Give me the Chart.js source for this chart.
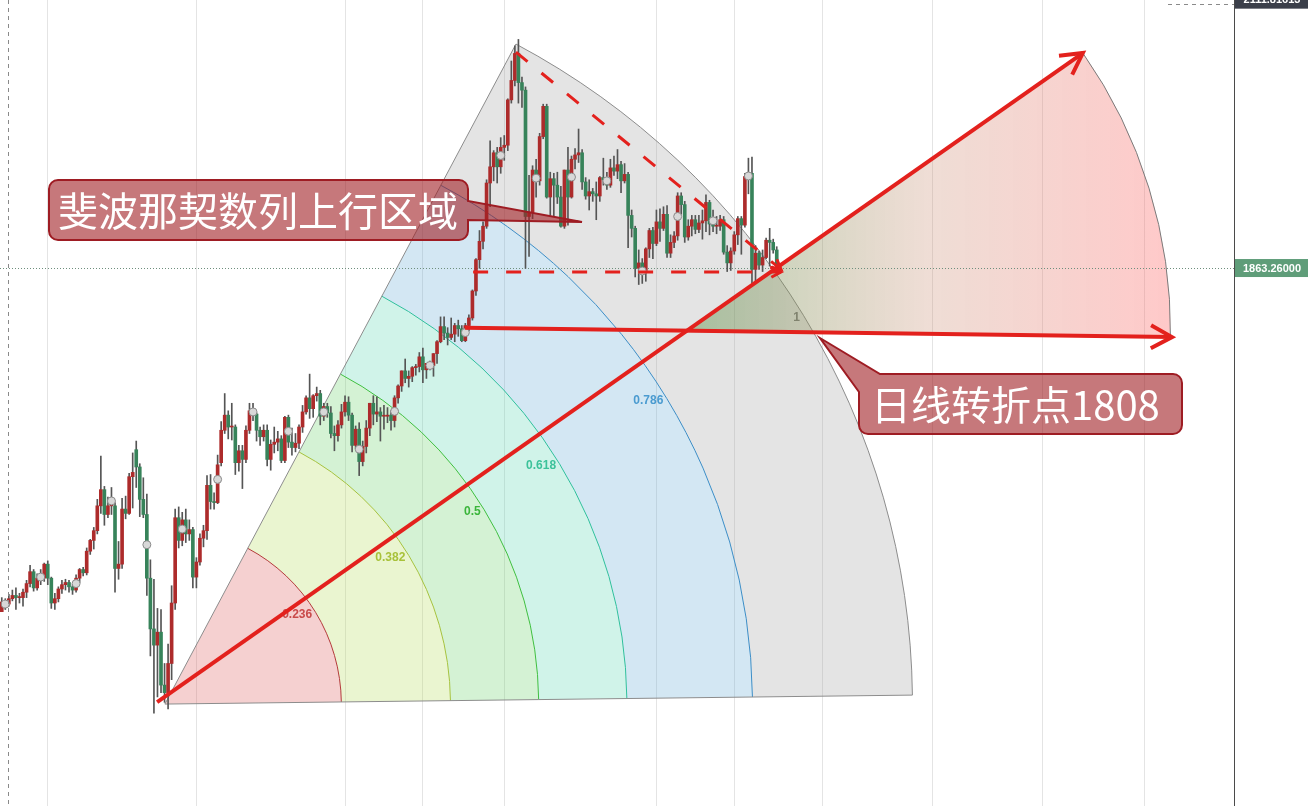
<!DOCTYPE html>
<html lang="zh">
<head>
<meta charset="utf-8">
<title>XAUUSD 日线</title>
<script src="https://cdn.jsdelivr.net/npm/chart.js@4.4.1/dist/chart.umd.min.js"></script>
<style>
  html, body { margin: 0; padding: 0; background: #fff; overflow: hidden; }
  #contenedor { position: relative; width: 1313px; height: 806px; }
</style>
</head>
<body>
<div id="contenedor"><canvas id="grafica"></canvas></div>
<script>
// Velas diarias, 15 ene 2020 – 18 nov 2020 (una fila por mes)
const apertura = [
  1545,1554,1552,1557,1560,1558,1558,1563,1571,1582,1567,1576,1576,
  1589,1576,1553,1557,1566,1570,1572,1568,1565,1576,1584,1581,1601,1611,1620,1643,1658,1635,1643,1643,
  1585,1589,1640,1636,1670,1695,1679,1649,1635,1576,1529,1514,1526,1477,1470,1497,1553,1632,1611,1630,1617,1621,
  1577,1591,1613,1620,1662,1647,1646,1683,1713,1727,1716,1716,1683,1694,1686,1713,1731,1728,1713,1707,1713,
  1686,1700,1702,1705,1685,1725,1702,1697,1701,1716,1730,1743,1733,1745,1747,1726,1735,1729,1710,1708,1718,
  1730,1739,1727,1699,1714,1684,1698,1715,1738,1728,1730,1726,1726,1727,1722,1743,1754,1768,1761,1763,1771,1772,
  1781,1769,1775,1773,1784,1795,1809,1803,1799,1802,1810,1807,1796,1810,1817,1842,1871,1888,1902,1942,1957,1970,1957,
  1975,1977,2019,2037,2062,2035,2028,1911,1915,1954,1944,1985,2013,1929,1946,1940,1929,1902,1954,1929,1964,
  1968,1970,1943,1930,1934,1932,1930,1947,1945,1940,1956,1953,1959,1944,1950,1912,1900,1863,1868,1861,1881,1898,
  1886,1906,1900,1913,1877,1887,1893,1930,1922,1892,1902,1908,1899,1905,1907,1924,1904,1902,1902,1908,1878,1868,
  1879,1894,1909,1903,1948,1951,1862,1877,1866,1873,1889,1887,1880
];
const maximo = [
  1558,1557,1561,1565,1567,1562,1566,1574,1588,1584,1580,1584,1590,
  1592,1577,1562,1568,1574,1575,1574,1570,1579,1585,1586,1604,1612,1623,1649,1689,1661,1651,1660,1646,
  1610,1650,1652,1673,1692,1703,1682,1669,1654,1593,1575,1548,1547,1497,1515,1569,1640,1642,1637,1640,1630,1623,
  1595,1617,1625,1671,1672,1655,1690,1721,1747,1731,1738,1718,1699,1699,1717,1738,1738,1729,1716,1718,1718,
  1704,1716,1712,1708,1726,1727,1715,1710,1718,1736,1745,1765,1746,1753,1750,1738,1738,1735,1717,1722,1737,
  1745,1744,1729,1717,1720,1703,1722,1738,1745,1744,1734,1736,1734,1731,1745,1755,1768,1779,1768,1772,1774,1785,
  1789,1775,1777,1784,1796,1818,1818,1808,1817,1812,1815,1810,1812,1820,1843,1872,1898,1906,1945,1981,1972,1975,1984,
  1986,2020,2055,2069,2075,2040,2031,1949,1958,1964,1988,2015,2015,1952,1951,1952,1939,1954,1975,1967,1974,
  1992,1973,1947,1945,1937,1943,1948,1965,1952,1964,1967,1973,1962,1960,1952,1917,1902,1880,1872,1882,1900,1901,
  1917,1918,1920,1921,1894,1897,1933,1933,1925,1908,1912,1912,1912,1917,1931,1926,1917,1911,1912,1911,1884,1882,
  1897,1911,1911,1951,1965,1966,1884,1879,1880,1891,1900,1890,1883
];
const minimo = [
  1545,1547,1550,1555,1547,1553,1550,1558,1568,1564,1565,1570,1573,
  1570,1548,1547,1554,1562,1565,1563,1561,1563,1572,1578,1579,1598,1603,1617,1636,1625,1632,1635,1563,
  1575,1585,1631,1635,1641,1660,1633,1632,1560,1504,1451,1466,1470,1461,1455,1482,1547,1604,1606,1609,1611,1567,
  1567,1588,1605,1612,1640,1640,1645,1680,1710,1705,1704,1672,1675,1659,1683,1710,1722,1703,1699,1703,1680,
  1676,1692,1694,1683,1683,1697,1690,1693,1696,1711,1728,1724,1725,1740,1718,1722,1725,1706,1694,1703,1715,
  1726,1722,1693,1696,1671,1680,1692,1708,1718,1721,1703,1714,1720,1713,1716,1738,1749,1757,1753,1758,1764,1767,
  1757,1761,1769,1763,1775,1794,1797,1792,1797,1795,1800,1795,1795,1805,1815,1838,1863,1881,1900,1920,1944,1942,1951,
  1963,1972,2016,2032,2016,2012,1863,1874,1909,1929,1940,1983,1928,1912,1911,1923,1901,1900,1903,1928,1955,
  1961,1936,1927,1917,1925,1908,1925,1940,1936,1938,1949,1946,1933,1942,1882,1892,1855,1848,1849,1851,1873,1872,
  1884,1888,1898,1873,1873,1882,1889,1913,1887,1889,1893,1895,1896,1890,1897,1894,1897,1895,1898,1876,1860,1861,
  1876,1885,1876,1901,1932,1849,1850,1862,1860,1872,1865,1877,1860
];
const cierre = [
  1554,1552,1557,1560,1558,1558,1563,1571,1582,1567,1576,1576,1589,
  1576,1553,1557,1566,1570,1572,1568,1565,1576,1584,1581,1601,1611,1620,1643,1658,1635,1643,1643,1585,
  1589,1640,1636,1670,1674,1679,1649,1635,1576,1529,1514,1526,1477,1470,1497,1553,1632,1611,1630,1617,1621,1577,
  1591,1613,1620,1662,1647,1646,1681,1713,1727,1716,1716,1683,1694,1686,1713,1731,1728,1713,1707,1713,1686,
  1700,1702,1705,1685,1725,1702,1697,1701,1716,1730,1743,1733,1745,1747,1726,1735,1729,1710,1708,1718,1730,
  1739,1727,1699,1714,1684,1698,1715,1738,1728,1730,1726,1726,1727,1722,1743,1754,1768,1761,1763,1771,1772,1781,
  1769,1775,1773,1784,1795,1809,1803,1799,1802,1810,1807,1796,1810,1817,1842,1871,1888,1902,1942,1957,1970,1957,1975,
  1977,2019,2037,2062,2035,2028,1911,1915,1954,1944,1985,2013,1929,1946,1940,1929,1902,1954,1929,1964,1968,
  1970,1943,1930,1934,1932,1930,1947,1945,1940,1956,1953,1959,1944,1950,1912,1900,1863,1868,1861,1881,1898,1886,
  1906,1900,1913,1877,1887,1893,1930,1922,1892,1902,1908,1899,1905,1907,1924,1904,1902,1902,1908,1878,1868,1879,
  1894,1909,1903,1948,1951,1862,1877,1866,1873,1889,1887,1880,1863.26
];

// Marcadores grises cada 10 velas
const indicesMarcador = [1, 11, 21, 31, 41, 51, 61, 71, 81, 91, 101, 111, 121, 131, 141, 151, 161, 171, 181, 191, 201, 211];

// Líneas verticales de la rejilla (índice de vela)
const indicesRejilla = [13, 55, 97, 119, 142, 185, 207, 232, 263, 294, 323];

// Cuña de Fibonacci
const nivelesFib = [0.236, 0.382, 0.5, 0.618, 0.786, 1];
const etiquetasFib = ["0.236", "0.382", "0.5", "0.618", "0.786", "1"];

// Precios marcados en el eje derecho
const preciosEje = [2111.81613, 1863.26];
const textosEje = ["2111.81613", "1863.26000"];

// Anclas de los dibujos: [índice de vela, precio]
const cunaCentro = [46.1, 1459.4];
const cunaBorde1 = [145.3, 2070.7];
const cunaBorde2 = [256.9, 1467.7];
const lineaAlcista = [[43.9, 1461.3], [305.5, 2062.4]];
const lineaGiro = [[130.9, 1808.0], [330.7, 1799.3]];
const techoBajista = [[145.3, 2063.3], [220.2, 1862.0]];
const sueloLateral = [[133.2, 1859.6], [220.2, 1859.6]];

const textoCuna = "斐波那契数列上行区域";
const textoGiro = "日线转折点1808";

// Estilos
const rellenosFib = ["rgba(222,98,98,0.3)", "rgba(185,222,98,0.3)", "rgba(112,212,112,0.3)",
  "rgba(98,215,182,0.3)", "rgba(108,175,215,0.3)", "rgba(165,165,165,0.3)"];
const lineasFib = ["#b33a3a", "#a6c23e", "#3fbf3f", "#2fbf9c", "#3c8dc6", "#8c8c8c"];
const textoFibColor = ["#c94a4a", "#a8c23a", "#3bb53b", "#3cc29a", "#4a9bd0", "#7a7a7a"];
const rojo = "#e3211d";

document.addEventListener("DOMContentLoaded", function () {
  cargarGrafica();
});

function generarFechas(total) {
  const fechas = [];
  const d = new Date(Date.UTC(2020, 0, 15));
  while (fechas.length < total) {
    const dia = d.getUTCDay();
    const iso = d.toISOString().slice(0, 10);
    if (dia !== 0 && dia !== 6 && iso !== "2020-04-10") fechas.push(iso);
    d.setUTCDate(d.getUTCDate() + 1);
  }
  return fechas;
}

function aPixel(chart) {
  const sx = chart.scales.x;
  const sy = chart.scales.y;
  return (p) => [sx.getPixelForValue(p[0]), sy.getPixelForValue(p[1])];
}

function cruce(a, b, c, d) {
  const d1x = b[0] - a[0], d1y = b[1] - a[1];
  const d2x = d[0] - c[0], d2y = d[1] - c[1];
  const den = d1x * d2y - d1y * d2x;
  const t = ((c[0] - a[0]) * d2y - (c[1] - a[1]) * d2x) / den;
  return [a[0] + t * d1x, a[1] + t * d1y];
}

function flecha(ctx, a, b, largo) {
  const ang = Math.atan2(b[1] - a[1], b[0] - a[0]);
  ctx.beginPath();
  ctx.moveTo(b[0] - largo * Math.cos(ang - 0.5), b[1] - largo * Math.sin(ang - 0.5));
  ctx.lineTo(b[0], b[1]);
  ctx.lineTo(b[0] - largo * Math.cos(ang + 0.5), b[1] - largo * Math.sin(ang + 0.5));
  ctx.stroke();
}

// Cuña de Fibonacci con sus arcos
function dibujarCuna(ctx, px) {
  const [cx, cy] = px(cunaCentro);
  const [ax, ay] = px(cunaBorde1);
  const [bx, by] = px(cunaBorde2);
  const radio = Math.hypot(ax - cx, ay - cy);
  const angA = Math.atan2(ay - cy, ax - cx);
  const angB = Math.atan2(by - cy, bx - cx);

  let anterior = 0;
  nivelesFib.forEach((nivel, i) => {
    const r = nivel * radio;
    ctx.beginPath();
    ctx.arc(cx, cy, r, angA, angB, false);
    if (anterior === 0) ctx.lineTo(cx, cy);
    else ctx.arc(cx, cy, anterior, angB, angA, true);
    ctx.closePath();
    ctx.fillStyle = rellenosFib[i];
    ctx.fill();
    anterior = r;
  });

  ctx.lineWidth = 1;
  nivelesFib.forEach((nivel, i) => {
    ctx.beginPath();
    ctx.arc(cx, cy, nivel * radio, angA, angB, false);
    ctx.strokeStyle = lineasFib[i];
    ctx.stroke();
  });

  ctx.beginPath();
  ctx.moveTo(cx + radio * Math.cos(angA), cy + radio * Math.sin(angA));
  ctx.lineTo(cx, cy);
  ctx.lineTo(cx + radio * Math.cos(angB), cy + radio * Math.sin(angB));
  ctx.strokeStyle = "#8c8c8c";
  ctx.stroke();

  // etiquetas de nivel
  const angMedio = (angA + angB) / 2;
  ctx.font = 'bold 12px "Liberation Sans"';
  ctx.textAlign = "right";
  ctx.textBaseline = "middle";
  nivelesFib.forEach((nivel, i) => {
    const r = nivel * radio - 4;
    ctx.fillStyle = textoFibColor[i];
    ctx.fillText(etiquetasFib[i], cx + r * Math.cos(angMedio), cy + r * Math.sin(angMedio));
  });
}

// Sector con degradado entre las dos líneas rojas
function dibujarAbanico(ctx, px) {
  const a1 = px(lineaAlcista[0]), b1 = px(lineaAlcista[1]);
  const a2 = px(lineaGiro[0]), b2 = px(lineaGiro[1]);
  const p = cruce(a1, b1, a2, b2);
  const r = Math.hypot(b1[0] - p[0], b1[1] - p[1]);
  const ang1 = Math.atan2(b1[1] - p[1], b1[0] - p[0]);
  const ang2 = Math.atan2(b2[1] - p[1], b2[0] - p[0]);

  const grad = ctx.createLinearGradient(p[0], 0, p[0] + r, 0);
  grad.addColorStop(0, "rgba(80,140,60,0.42)");
  grad.addColorStop(0.5, "rgba(205,150,125,0.32)");
  grad.addColorStop(1, "rgba(255,105,105,0.36)");

  ctx.beginPath();
  ctx.moveTo(p[0], p[1]);
  ctx.arc(p[0], p[1], r, ang1, ang2, false);
  ctx.closePath();
  ctx.fillStyle = grad;
  ctx.fill();

  ctx.beginPath();
  ctx.arc(p[0], p[1], r, ang1, ang2, false);
  ctx.strokeStyle = "#7a7a7a";
  ctx.lineWidth = 1;
  ctx.stroke();
}

function dibujarLineas(ctx, px) {
  ctx.strokeStyle = rojo;
  ctx.lineJoin = "miter";
  [lineaAlcista, lineaGiro].forEach((l) => {
    const a = px(l[0]), b = px(l[1]);
    ctx.lineWidth = 4;
    ctx.setLineDash([]);
    ctx.beginPath();
    ctx.moveTo(a[0], a[1]);
    ctx.lineTo(b[0], b[1]);
    ctx.stroke();
    flecha(ctx, a, b, 24);
  });
  [techoBajista, sueloLateral].forEach((l) => {
    const a = px(l[0]), b = px(l[1]);
    ctx.lineWidth = 3;
    ctx.setLineDash([15, 18]);
    ctx.beginPath();
    ctx.moveTo(a[0], a[1]);
    ctx.lineTo(b[0], b[1]);
    ctx.stroke();
    ctx.setLineDash([]);
    flecha(ctx, a, b, 11);
  });
}

function caminoRedondeado(ctx, x0, y0, x1, y1, r, cola) {
  ctx.beginPath();
  if (cola.lado === "derecha") {
    ctx.moveTo(x0 + r, y0);
    ctx.lineTo(x1 - r, y0);
    ctx.arcTo(x1, y0, x1, y0 + r, r);
    ctx.lineTo(x1, cola.b1);
    ctx.lineTo(cola.punta[0], cola.punta[1]);
    ctx.lineTo(x1, cola.b2);
    ctx.lineTo(x1, y1 - r);
    ctx.arcTo(x1, y1, x1 - r, y1, r);
    ctx.lineTo(x0 + r, y1);
    ctx.arcTo(x0, y1, x0, y1 - r, r);
    ctx.lineTo(x0, y0 + r);
    ctx.arcTo(x0, y0, x0 + r, y0, r);
  } else {
    ctx.moveTo(cola.b1, y0);
    ctx.lineTo(x1 - r, y0);
    ctx.arcTo(x1, y0, x1, y0 + r, r);
    ctx.lineTo(x1, y1 - r);
    ctx.arcTo(x1, y1, x1 - r, y1, r);
    ctx.lineTo(x0 + r, y1);
    ctx.arcTo(x0, y1, x0, y1 - r, r);
    ctx.lineTo(x0, cola.b2);
    ctx.lineTo(cola.punta[0], cola.punta[1]);
  }
  ctx.closePath();
}

function dibujarGlobos(ctx) {
  ctx.fillStyle = "rgba(160,30,35,0.6)";
  ctx.strokeStyle = "#9e1c23";
  ctx.lineWidth = 2;
  caminoRedondeado(ctx, 49, 180, 468, 240, 9, { lado: "derecha", b1: 201, b2: 220, punta: [582, 222] });
  ctx.fill();
  ctx.stroke();
  caminoRedondeado(ctx, 859, 374, 1182, 434, 9, { lado: "arriba", b1: 880, b2: 392, punta: [820, 338] });
  ctx.fill();
  ctx.stroke();

  ctx.fillStyle = "#ffffff";
  ctx.font = '40px "Noto Sans CJK SC"';
  ctx.textAlign = "left";
  ctx.textBaseline = "middle";
  ctx.fillText(textoCuna, 58, 211);
  ctx.fillText(textoGiro, 871, 405);
}

function dibujarEje(chart, ctx) {
  const sy = chart.scales.y;
  const area = chart.chartArea;
  const xEje = area.right;

  // cruz del cursor
  ctx.strokeStyle = "#8a8a8a";
  ctx.lineWidth = 1;
  ctx.setLineDash([4, 4]);
  ctx.beginPath();
  ctx.moveTo(8.5, 0);
  ctx.lineTo(8.5, chart.height);
  ctx.moveTo(1168, 4.5);
  ctx.lineTo(xEje, 4.5);
  ctx.stroke();
  ctx.setLineDash([]);

  ctx.strokeStyle = "#4a4a4a";
  ctx.beginPath();
  ctx.moveTo(xEje - 0.5, 0);
  ctx.lineTo(xEje - 0.5, chart.height);
  ctx.stroke();

  const fondos = ["#3b3f4a", "#5f9d79"];
  ctx.font = 'bold 11px "Liberation Sans"';
  ctx.textAlign = "center";
  ctx.textBaseline = "middle";
  preciosEje.forEach((p, i) => {
    const yy = sy.getPixelForValue(p);
    ctx.fillStyle = fondos[i];
    ctx.fillRect(xEje, yy - 9, 73, 18);
    ctx.fillStyle = "#ffffff";
    ctx.fillText(textosEje[i], xEje + 37, yy + 0.5);
  });
}

const dibujos = {
  id: "dibujos",
  beforeDatasetsDraw(chart) {
    const ctx = chart.ctx;
    const px = aPixel(chart);
    ctx.save();
    dibujarCuna(ctx, px);
    dibujarAbanico(ctx, px);
    // línea del último precio
    const yUlt = Math.round(chart.scales.y.getPixelForValue(cierre[cierre.length - 1])) + 0.5;
    ctx.strokeStyle = "#6e8f7d";
    ctx.lineWidth = 1;
    ctx.setLineDash([1, 2]);
    ctx.beginPath();
    ctx.moveTo(0, yUlt);
    ctx.lineTo(chart.chartArea.right, yUlt);
    ctx.stroke();
    ctx.restore();
  },
  afterDatasetsDraw(chart) {
    const ctx = chart.ctx;
    const px = aPixel(chart);
    ctx.save();
    dibujarLineas(ctx, px);
    dibujarGlobos(ctx);
    dibujarEje(chart, ctx);
    ctx.restore();
  },
};

function cargarGrafica() {
  const fechas = generarFechas(349);
  const colorVela = cierre.map((c, i) => (c >= apertura[i] ? "#ad2b2b" : "#37835a"));
  const mechas = minimo.map((l, i) => [l, maximo[i]]);
  const cuerpos = apertura.map((o, i) => [o, cierre[i]]);
  const marcadores = cierre.map((_, i) =>
    indicesMarcador.includes(i) ? (maximo[i] + minimo[i]) / 2 : null
  );

  const ctx = document.getElementById("grafica").getContext("2d");
  const chart = new Chart(ctx, {
    type: "bar",
    data: {
      labels: fechas,
      datasets: [
        {
          label: "mecha",
          data: mechas,
          backgroundColor: "#555555",
          barThickness: 1,
          grouped: false,
          order: 3,
        },
        {
          label: "vela",
          data: cuerpos,
          backgroundColor: colorVela,
          barThickness: 3,
          minBarLength: 1,
          grouped: false,
          order: 2,
        },
        {
          type: "line",
          label: "marcador",
          data: marcadores,
          showLine: false,
          pointRadius: 4,
          pointBackgroundColor: "#d8d8d8",
          pointBorderColor: "#8a8a8a",
          pointBorderWidth: 1,
          clip: false,
          order: 1,
        },
      ],
    },
    options: {
      responsive: true,
      maintainAspectRatio: false,
      animation: false,
      events: [],
      layout: { autoPadding: false, padding: { left: 0, right: 78, top: 0, bottom: 0 } },
      plugins: {
        legend: { display: false },
        tooltip: { enabled: false },
      },
      scales: {
        x: {
          type: "category",
          offset: true,
          ticks: { display: false, autoSkip: false },
          border: { display: false },
          grid: {
            offset: false,
            drawTicks: false,
            lineWidth: 1,
            color: (c) => (indicesRejilla.includes(c.index) ? "#e4e4e4" : "rgba(0,0,0,0)"),
          },
          afterFit: (s) => { s.height = 0; },
        },
        y: {
          display: false,
          min: 1365,
          max: 2111.5,
        },
      },
    },
    plugins: [dibujos],
  });

  document.fonts.load('40px "Noto Sans CJK SC"', textoCuna + textoGiro).then(() => chart.draw());
}
</script>
</body>
</html>
